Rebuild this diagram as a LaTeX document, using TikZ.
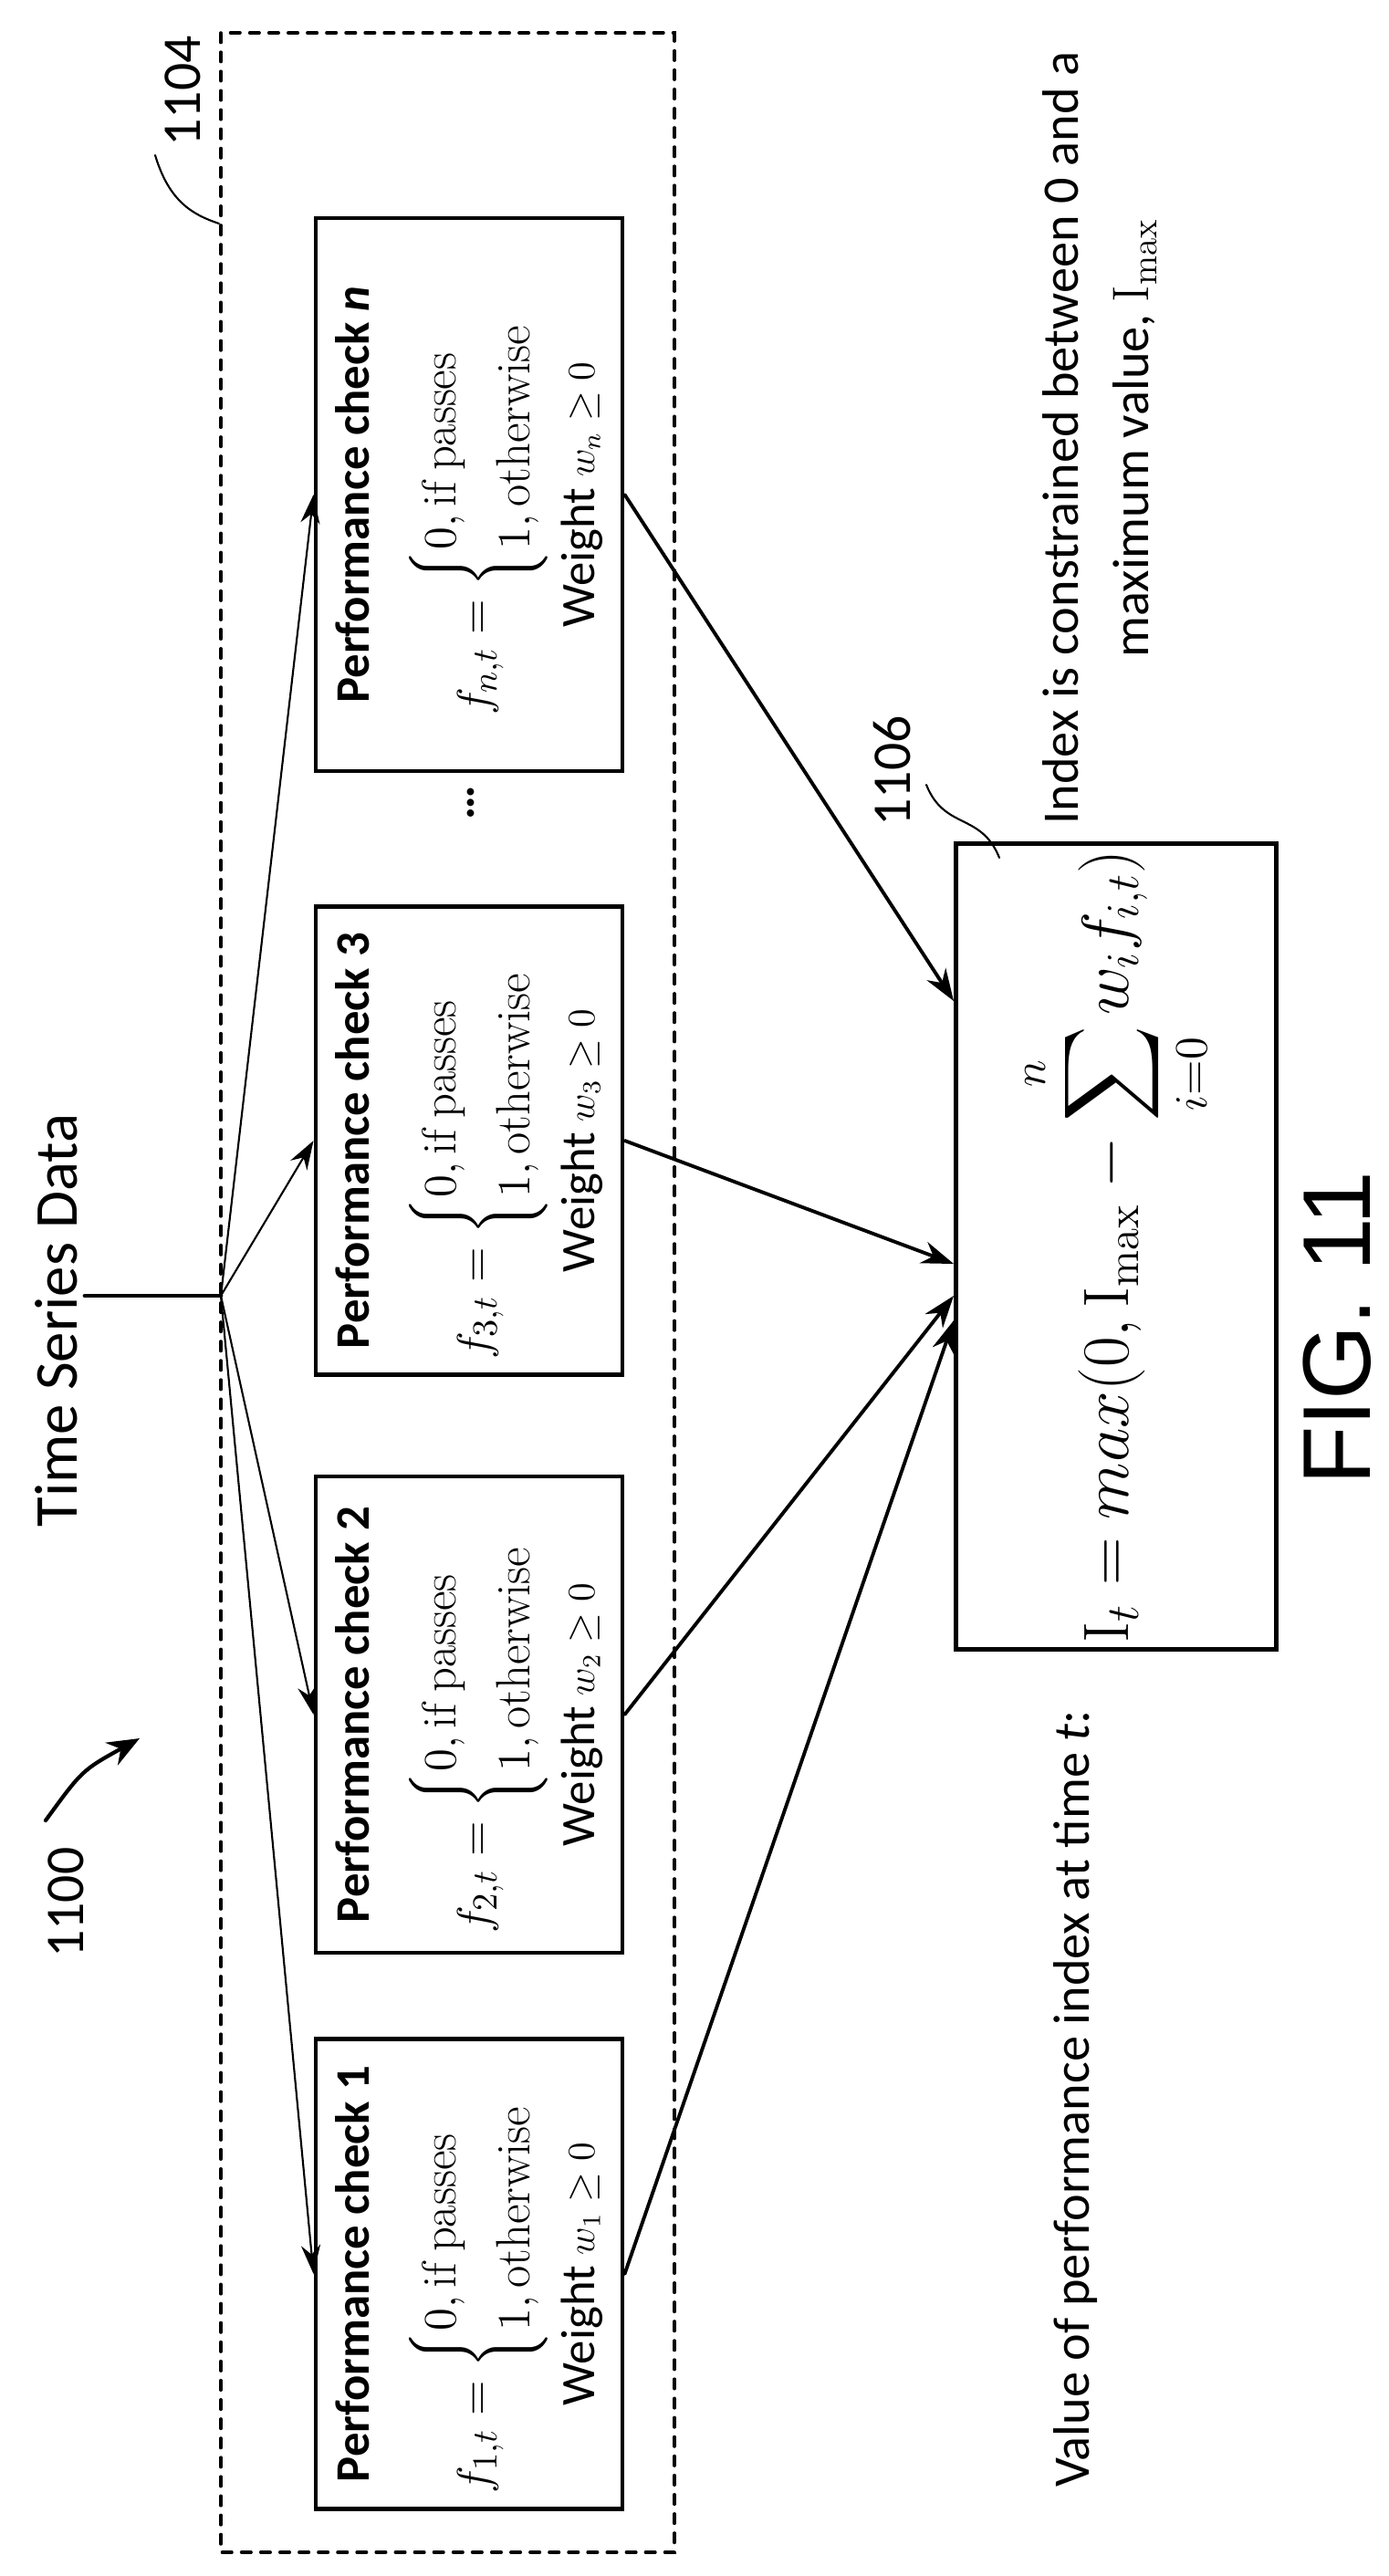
\documentclass[tikz,border=0pt]{standalone}
\usepackage{amsmath}
\usepackage{fontspec}
\setsansfont{Carlito}
\newfontfamily\figfont{Liberation Sans}
\usetikzlibrary{arrows.meta}
\newcommand{\passcases}[1]{$f_{#1,t}=\begin{cases}0,\mathrm{if\ passes}\\1,\mathrm{otherwise}\end{cases}$}
\begin{document}
\begin{tikzpicture}[line cap=round,
                    check/.style = {draw, line width=1.4pt, rotate=90,
                                    minimum width=5.4cm, minimum height=3.36cm,
                                    align=center, inner sep=2pt,
                                    font=\sffamily\fontsize{15}{19}\selectfont},
                    lbl/.style = {rotate=90, font=\sffamily\fontsize{17}{20}\selectfont},
                    feed/.style = {line width=0.6pt, -{Stealth[length=9pt,width=6pt]}},
                    result/.style = {line width=1.1pt, -{Stealth[length=10pt,width=7pt]}}]

    \useasboundingbox (0,0) rectangle (15.22,-28.23);

    % Group of performance checks
    \draw[dashed, line width=1pt] (2.42,-0.36) rectangle (7.39,-27.97);
    \node[lbl] (l1104) at (2.00,-1.00) {1104};
    \draw[line width=0.6pt] (1.70,-1.70) .. controls (1.85,-2.20) and (2.10,-2.35) .. (2.40,-2.45);

    % Input
    \node[lbl, font=\sffamily\fontsize{19}{22}\selectfont] (ts) at (0.62,-14.47) {Time Series Data};
    \coordinate (fan) at (2.42,-14.20);
    \draw[line width=1.4pt] (0.93,-14.20) -- (fan);

    % Checks
    \node[check, minimum width=6.06cm] (bn) at (5.14,-5.42)
        {\textbf{Performance check \textit{n}}\\[10pt]
         \passcases{n}\\[2pt]
         Weight {\large$w_n\geq 0$}};
    \node[rotate=90, font=\sffamily\bfseries\fontsize{15}{18}\selectfont] (dots) at (5.16,-8.80) {\dots};
    \node[check, minimum width=5.13cm] (b3) at (5.14,-12.50)
        {\textbf{Performance check 3}\\[10pt]
         \passcases{3}\\[2pt]
         Weight {\large$w_3\geq 0$}};
    \node[check, minimum width=5.22cm] (b2) at (5.14,-18.79)
        {\textbf{Performance check 2}\\[10pt]
         \passcases{2}\\[2pt]
         Weight {\large$w_2\geq 0$}};
    \node[check, minimum width=5.15cm] (b1) at (5.14,-24.92)
        {\textbf{Performance check 1}\\[10pt]
         \passcases{1}\\[2pt]
         Weight {\large$w_1\geq 0$}};

    % Index
    \node[check, minimum width=8.45cm, minimum height=3.51cm,
          font=\fontsize{20}{24}\selectfont] (res) at (12.23,-13.66)
        {$\displaystyle \mathrm{I}_t = max(0,\mathrm{I}_{\max}-\sum_{i=0}^{n} w_i f_{i,t})$};
    \node[lbl] (l1106) at (9.78,-8.45) {1106};
    \draw[line width=0.6pt] (10.15,-8.60) .. controls (10.35,-9.10) and (10.75,-8.90) .. (10.95,-9.40);
    \node[lbl, font=\sffamily\fontsize{16}{22}\selectfont, align=center] (note) at (12.05,-4.80)
        {Index is constrained between 0 and a\\ maximum value, $\mathrm{I}_{\max}$};
    \node[lbl, font=\sffamily\fontsize{16}{20}\selectfont] (val) at (11.78,-23.00)
        {Value of performance index at time \textit{t}:};

    % Connectors
    \foreach \b in {bn,b3,b2,b1}
        \draw[feed] (fan) -- (\b.north);
    \draw[result] (bn.south) -- ([yshift=2.69cm]res.north);
    \draw[result] (b3.south) -- ([yshift=-0.19cm]res.north);
    \draw[result] (b2.south) -- ([yshift=-0.54cm]res.north);
    \draw[result] (b1.south) -- ([yshift=-0.81cm]res.north);

    % Figure reference
    \node[lbl] (l1100) at (0.72,-20.85) {1100};
    \draw[line width=1.2pt, -{Stealth[length=10pt,width=8pt]}] (0.50,-19.95) .. controls (0.90,-19.40) .. (1.53,-19.05);
    \node[rotate=90, font=\figfont\fontsize{30}{34}\selectfont] (fig) at (14.65,-14.56) {FIG. 11};
\end{tikzpicture}
\end{document}
